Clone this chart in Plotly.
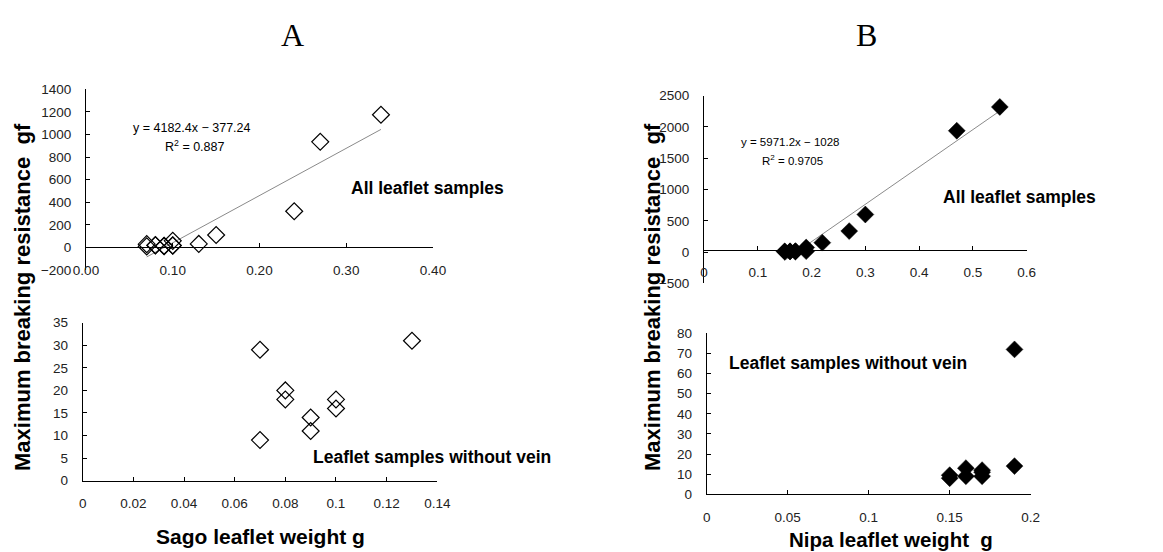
import numpy as np
import plotly.graph_objects as go

# ---------------- data ----------------
# Panel A (Sago) - all leaflet samples
sago_all_w = [0.07, 0.07, 0.08, 0.08, 0.09, 0.09, 0.10, 0.10, 0.10, 0.13, 0.15, 0.24, 0.27, 0.34]
sago_all_r = [29, 9, 20, 18, 14, 11, 18, 16, 58, 31, 110, 320, 935, 1175]
# Panel A (Sago) - leaflet samples without vein
sago_nv_w = [0.07, 0.07, 0.08, 0.08, 0.09, 0.09, 0.10, 0.10, 0.13]
sago_nv_r = [29, 9, 20, 18, 14, 11, 18, 16, 31]
# Panel B (Nipa) - all leaflet samples
nipa_all_w = [0.15, 0.15, 0.16, 0.16, 0.17, 0.17, 0.17, 0.19, 0.19, 0.22, 0.27, 0.30, 0.47, 0.55]
nipa_all_r = [9.5, 8, 13, 9, 12, 11, 9, 72, 14, 150, 335, 600, 1940, 2320]
# Panel B (Nipa) - leaflet samples without vein
nipa_nv_w = [0.15, 0.15, 0.16, 0.16, 0.17, 0.17, 0.17, 0.19, 0.19]
nipa_nv_r = [9.5, 8, 13, 9, 12, 11, 9, 72, 14]

# trendline equations shown on the chart
sago_slope, sago_icpt, sago_r2 = 4182.4, -377.24, 0.887
nipa_slope, nipa_icpt, nipa_r2 = 5971.2, -1028.0, 0.9705

W, H = 1163, 552


def px_x(v):
    return v / W


def px_y(v):
    return 1 - v / H


fig = go.Figure()

open_marker = dict(symbol="diamond-open", size=13, color="black", line=dict(width=1.2, color="black"))
fill_marker = dict(symbol="diamond", size=13, color="black", line=dict(width=0.5, color="black"))
trend_line = dict(color="#8a8a8a", width=1)

# Panel A top
sx = np.array([min(sago_all_w), max(sago_all_w)])
fig.add_trace(go.Scatter(x=sx, y=sago_slope * sx + sago_icpt, mode="lines", line=trend_line,
                         xaxis="x", yaxis="y", showlegend=False, hoverinfo="skip"))
fig.add_trace(go.Scatter(x=sago_all_w, y=sago_all_r, mode="markers", marker=open_marker,
                         xaxis="x", yaxis="y", showlegend=False, cliponaxis=False))
# Panel A bottom
fig.add_trace(go.Scatter(x=sago_nv_w, y=sago_nv_r, mode="markers", marker=open_marker,
                         xaxis="x2", yaxis="y2", showlegend=False, cliponaxis=False))
# Panel B top
nx = np.array([min(nipa_all_w), max(nipa_all_w)])
fig.add_trace(go.Scatter(x=nx, y=nipa_slope * nx + nipa_icpt, mode="lines", line=trend_line,
                         xaxis="x3", yaxis="y3", showlegend=False, hoverinfo="skip"))
fig.add_trace(go.Scatter(x=nipa_all_w, y=nipa_all_r, mode="markers", marker=fill_marker,
                         xaxis="x3", yaxis="y3", showlegend=False, cliponaxis=False))
# Panel B bottom
fig.add_trace(go.Scatter(x=nipa_nv_w, y=nipa_nv_r, mode="markers", marker=fill_marker,
                         xaxis="x4", yaxis="y4", showlegend=False, cliponaxis=False))

tickfont = dict(family="Liberation Sans Narrow, Liberation Sans, Arial, sans-serif", size=13.5, color="#222")
common = dict(showline=True, linecolor="black", linewidth=1, ticks="inside", ticklen=4,
              tickcolor="black", tickwidth=1, showgrid=False, zeroline=False,
              tickfont=tickfont, automargin=False)
xs, ys = 10, 11

fig.update_layout(
    width=W, height=H,
    margin=dict(l=0, r=0, t=0, b=0, pad=0, autoexpand=False),
    paper_bgcolor="white", plot_bgcolor="white",
    xaxis=dict(domain=[px_x(86), px_x(433)], range=[0, 0.4], dtick=0.1, tickformat=".2f",
               anchor="free", position=px_y(247.3), ticklabelstandoff=xs, **common),
    yaxis=dict(domain=[px_y(270), px_y(89.3)], range=[-200, 1400], dtick=200, anchor="x",
               ticklabelstandoff=ys, **common),
    xaxis2=dict(domain=[px_x(82.7), px_x(437.3)], range=[0, 0.14], dtick=0.02, anchor="y2",
                ticklabelstandoff=xs, **common),
    yaxis2=dict(domain=[px_y(480.7), px_y(322.7)], range=[0, 35], dtick=5, anchor="x2",
                ticklabelstandoff=ys, **common),
    xaxis3=dict(domain=[px_x(704), px_x(1026.7)], range=[0, 0.6], dtick=0.1,
                anchor="free", position=px_y(250), ticklabelstandoff=xs, **common),
    yaxis3=dict(domain=[px_y(283.3), px_y(95.7)], range=[-500, 2500], dtick=500, anchor="x3",
                ticklabelstandoff=ys, **common),
    xaxis4=dict(domain=[px_x(706.7), px_x(1030.7)], range=[0, 0.2], dtick=0.05, anchor="y4",
                ticklabelstandoff=xs, **common),
    yaxis4=dict(domain=[px_y(494.3), px_y(333.3)], range=[0, 80], dtick=10, anchor="x4",
                ticklabelstandoff=ys, **common),
)

sans = "Liberation Sans, Arial, sans-serif"


def ann(text, x, y, size, xanchor="center", family=sans, textangle=0, color="black"):
    fig.add_annotation(text=text, x=px_x(x), y=px_y(y), xref="paper", yref="paper",
                       xanchor=xanchor, yanchor="middle", showarrow=False, textangle=textangle,
                       font=dict(family=family, size=size, color=color))


# panel letters
ann("A", 292, 35, 32, family="Liberation Serif, Times New Roman, serif")
ann("B", 866, 35, 32, family="Liberation Serif, Times New Roman, serif")

# equations
ann(f"y = {sago_slope}x − {abs(sago_icpt)}", 192, 128, 12.5)
ann(f"R<sup>2</sup> = {sago_r2}", 194, 146, 12.5)
ann(f"y = {nipa_slope}x − {abs(nipa_icpt):.0f}", 790, 142, 11.5)
ann(f"R<sup>2</sup> = {nipa_r2}", 792, 160, 11.5)

# panel labels
ann("<b>All leaflet samples</b>", 349, 188, 17.5, xanchor="left")
ann("<b>Leaflet samples without vein</b>", 311, 457, 17.5, xanchor="left")
ann("<b>All leaflet samples</b>", 941, 197, 17.5, xanchor="left")
ann("<b>Leaflet samples without vein</b>", 727, 363, 17.5, xanchor="left")

# axis titles
ann("<b>Sago leaflet weight g</b>", 260, 536, 21)
ann("<b>Nipa leaflet weight  g</b>", 891, 539, 20.5)
ann("<b>Maximum breaking resistance  gf</b>", 23, 297, 22, textangle=-90)
ann("<b>Maximum breaking resistance  gf</b>", 653, 297, 22, textangle=-90)

fig.write_html("out.html", config={"displayModeBar": False},
               post_script="document.body.style.margin='0px';")
